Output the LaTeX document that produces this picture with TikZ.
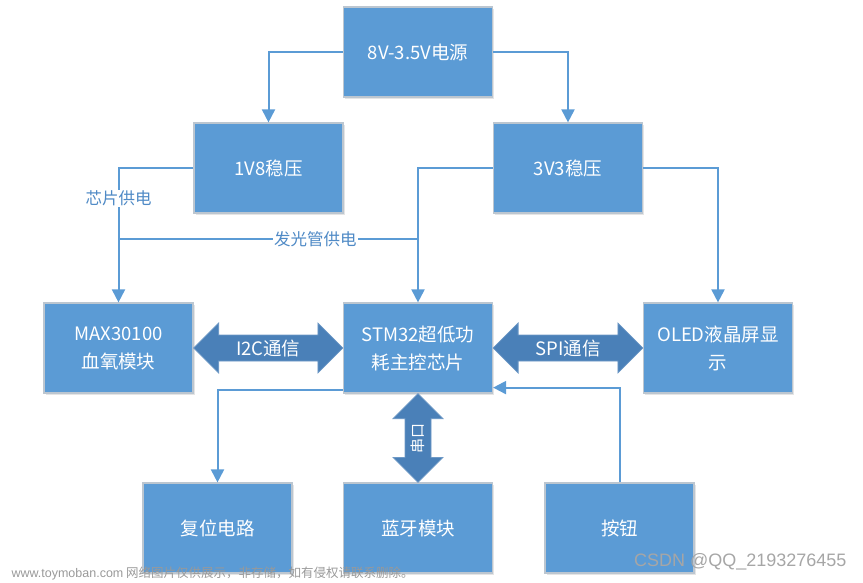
\documentclass[tikz,border=0pt]{standalone}
\usepackage{fontspec}
\setmainfont{Noto Sans CJK SC}
\newfontfamily\latf{Liberation Sans}
\usetikzlibrary{arrows.meta,calc,shadows}
\definecolor{boxblue}{HTML}{5B9BD5}
\definecolor{boxedge}{HTML}{BCC6D0}
\definecolor{linblue}{HTML}{5B9BD5}
\definecolor{darrow}{HTML}{4A80B8}
\definecolor{lbl}{HTML}{4F8AC6}
\begin{document}
\begin{tikzpicture}[x=1pt,y=-1pt,
 box/.style={draw=boxedge,line width=1.2pt,fill=boxblue,minimum width=149pt,minimum height=90pt,inner sep=2pt,text=white,font=\fontsize{18.5}{28}\selectfont,align=center,drop shadow={shadow xshift=1.5pt,shadow yshift=-2pt,opacity=0.25,fill=black!40}},
 conn/.style={draw=linblue,line width=2pt},
 arr/.style={conn,-{Triangle[width=13pt,length=13pt]}},
 darr/.style={fill=darrow,draw=darrow!80!white,line width=0.8pt},
 dlab/.style={text=white,font=\fontsize{18.5}{20}\selectfont},
 lab/.style={text=lbl,fill=white,inner sep=1pt,font=\fontsize{16.5}{18}\selectfont}]
\useasboundingbox (0,0) rectangle (863,582);

\node[box] (pwr) at (418,52) {8V-3.5V电源};
\node[box] (v18) at (268.5,168) {1V8稳压};
\node[box] (v33) at (568,168) {3V3稳压};
\node[box] (max) at (118.5,348) {MAX30100\\血氧模块};
\node[box] (stm) at (418,348) {STM32超低功\\耗主控芯片};
\node[box] (oled) at (718,348) {OLED液晶屏显\\示};
\node[box] (rst) at (217.5,528) {复位电路};
\node[box] (bt) at (418,528) {蓝牙模块};
\node[box] (key) at (619.5,528) {按钮};

\draw[arr] (pwr.west) -| (v18.north);
\draw[arr] (pwr.east) -| (v33.north);
\draw[arr] (v18.west) -| (max.north);
\node[lab] (lchip) at ($(max.north)+(0,-104)$) {芯片供电};
\draw[conn] ($(max.north)+(0,-63)$) -- ($(stm.north)+(0,-63)$) node[lab,pos=0.657] (lled) {发光管供电};
\draw[arr] (v33.west) -| (stm.north);
\draw[arr] (v33.east) -| (oled.north);
\draw[arr] ([yshift=4pt]stm.south west) -| (rst.north);
\draw[arr] (key.north) |- ([yshift=6pt]stm.south east);

\filldraw[darr] (max.east) -- ++(25,-25) -- ++(0,12) -- ($(stm.west)+(-25,-13)$) -- ++(0,-12) -- (stm.west) -- ++(-25,25) -- ++(0,-12) -- ($(max.east)+(25,13)$) -- ++(0,12) -- cycle;
\path (max.east) -- (stm.west) node[midway,dlab] (li2c) {I2C通信};

\filldraw[darr] (stm.east) -- ++(25,-25) -- ++(0,12) -- ($(oled.west)+(-25,-13)$) -- ++(0,-12) -- (oled.west) -- ++(-25,25) -- ++(0,-12) -- ($(stm.east)+(25,13)$) -- ++(0,12) -- cycle;
\path (stm.east) -- (oled.west) node[midway,dlab] (lspi) {SPI通信};

\filldraw[darr] (stm.south) -- ++(-25,25) -- ++(12,0) -- ($(bt.north)+(-13,-25)$) -- ++(-12,0) -- (bt.north) -- ++(25,-25) -- ++(-12,0) -- ($(stm.south)+(13,25)$) -- ++(12,0) -- cycle;
\path (stm.south) -- (bt.north) node[midway,rotate=90,text=white,font=\fontsize{15}{16}\selectfont] (luart) {串口};

\node[anchor=west,text=gray!80,font=\fontsize{12.5}{14}\selectfont] (wm1) at (8,573) {{\latf www.toymoban.com} 网络图片仅供展示，非存储，如有侵权请联系删除。};
\node[anchor=east,text=gray!70,font=\latf\fontsize{18}{20}\selectfont] (wm2) at (850,562) {CSDN @QQ\_2193276455};
\end{tikzpicture}
\end{document}
